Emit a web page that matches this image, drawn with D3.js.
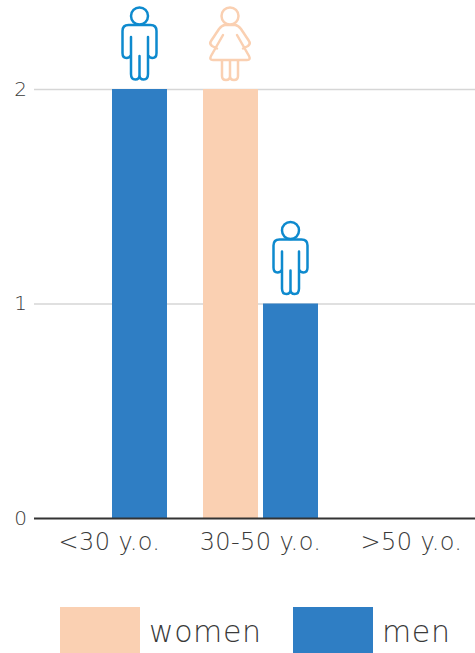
<html>
<head>
<meta charset="utf-8">
<script src="https://cdn.jsdelivr.net/npm/d3@7"></script>
<style>
body {
	margin: 0;
	background: #fff;
}
svg {
	display: block;
	font-family: "DejaVu Sans", sans-serif;
	font-weight: 200;
}
.y-axis path, .y-axis line, .x-axis line {
	display: none;
}
</style>
</head>

<body>
<svg id="chart" width="475" height="653"></svg>

<script>
var categories = ["<30 y.o.", "30-50 y.o.", ">50 y.o."];
var seriesNames = ["women", "men"];
var women = [0, 2, 0];
var men = [2, 1, 0];
var yTicks = [0, 1, 2];

var colors = {women: "#fad0b2", men: "#2f7ec4"};
var iconColors = {women: "#fad0b2", men: "#0e8ace"};
var fontFamily = '"DejaVu Sans", sans-serif';

// person outlines, origin is the middle of the bar top
var iconBody = {
	men: "M-8.5,-52V-15Q-8.5,-9.5 -4.2,-9.5Q0,-9.5 0,-14V-33V-14Q0,-9.5 4.2,-9.5Q8.5,-9.5 8.5,-15V-52" +
		"M-8.5,-34Q-10,-31 -13,-31Q-17,-31 -17,-36V-58Q-17,-64 -11,-64H11Q17,-64 17,-58V-36Q17,-31 13,-31Q10,-31 8.5,-34",
	women: "M-13,-40.5L-18,-43Q-21,-45.5 -19,-48L-11,-60Q-8,-64 -5,-64H5Q8,-64 11,-60L19,-48Q21,-45.5 18,-43L13,-40.5" +
		"M-7,-54L-19,-33Q-21,-29 -17,-29H17Q21,-29 19,-33L7,-54" +
		"M-8,-29V-13Q-8,-9 -4,-9Q0,-9 0,-13V-29V-13Q0,-9 4,-9Q8,-9 8,-13V-29"
};

var svg = d3.select("#chart");
var left = 34, right = 475, bottom = 518, top2 = 89;

var x0 = d3.scaleBand().domain(categories).range([left, 487]);
var x1 = d3.scaleBand().domain(seriesNames).range([0, 115]).paddingInner(1 / 12);
var y = d3.scaleLinear().domain([0, 2]).range([bottom, top2]);
var groupOffset = (x0.bandwidth() - 115) / 2;

// grid
svg.append("g")
	.selectAll("line")
	.data(yTicks.filter(function(d) { return d > 0; }))
	.join("line")
	.attr("x1", left)
	.attr("x2", right)
	.attr("y1", function(d) { return y(d) + 0.5; })
	.attr("y2", function(d) { return y(d) + 0.5; })
	.attr("stroke", "#d6d6d6")
	.attr("stroke-width", 1.5);

// bars and icons
var rows = [];
seriesNames.forEach(function(name) {
	var values = name == "women" ? women : men;
	categories.forEach(function(c, i) {
		if (values[i] > 0) rows.push({name: name, category: c, value: values[i]});
	});
});

svg.append("g")
	.selectAll("rect")
	.data(rows)
	.join("rect")
	.attr("x", function(d) { return x0(d.category) + groupOffset + x1(d.name); })
	.attr("y", function(d) { return y(d.value); })
	.attr("width", x1.bandwidth())
	.attr("height", function(d) { return bottom - y(d.value); })
	.attr("fill", function(d) { return colors[d.name]; });

var icons = svg.append("g")
	.selectAll("g")
	.data(rows)
	.join("g")
	.attr("transform", function(d) {
		var cx = x0(d.category) + groupOffset + x1(d.name) + x1.bandwidth() / 2;
		return "translate(" + (d.name == "women" ? cx - 0.5 : cx) + "," + y(d.value) + ")";
	})
	.attr("fill", "none")
	.attr("stroke-width", 2.5)
	.attr("stroke-linejoin", "round")
	.attr("stroke-linecap", "round")
	.attr("stroke", function(d) { return iconColors[d.name]; });
icons.append("circle")
	.attr("cy", -73)
	.attr("r", 8.5);
icons.append("path")
	.attr("d", function(d) { return iconBody[d.name]; });

// axes
var xAxis = svg.append("g")
	.attr("class", "x-axis")
	.attr("transform", "translate(0," + bottom + ")")
	.call(d3.axisBottom(x0).tickSize(0).tickPadding(15));
xAxis.select(".domain")
	.attr("stroke", "#333")
	.attr("stroke-width", 2)
	.attr("d", "M" + left + ",0.5H" + right);
xAxis.selectAll("text")
	.attr("fill", "#3a3a3a")
	.style("font-family", fontFamily)
	.style("font-weight", 200)
	.style("font-size", "24px")
	.style("letter-spacing", "0.4px");

var yAxis = svg.append("g")
	.attr("class", "y-axis")
	.attr("transform", "translate(" + left + ",0)")
	.call(d3.axisLeft(y).tickValues(yTicks).tickFormat(d3.format("d")).tickSize(0).tickPadding(7));
yAxis.selectAll("text")
	.attr("fill", "#3a3a3a")
	.style("font-family", fontFamily)
	.style("font-weight", 200)
	.style("font-size", "20px");

// legend
var legendScale = d3.scaleOrdinal().domain(seriesNames).range([60, 293]);
var legend = svg.append("g")
	.selectAll("g")
	.data(seriesNames)
	.join("g")
	.attr("transform", function(d) { return "translate(" + legendScale(d) + ",607)"; });
legend.append("rect")
	.attr("width", 80)
	.attr("height", 46)
	.attr("fill", function(d) { return colors[d]; });
legend.append("text")
	.attr("x", 89)
	.attr("y", 35)
	.attr("fill", "#3a3a3a")
	.attr("font-size", 30)
	.attr("letter-spacing", 0.6)
	.text(function(d) { return d; });
</script>
</body>
</html>
